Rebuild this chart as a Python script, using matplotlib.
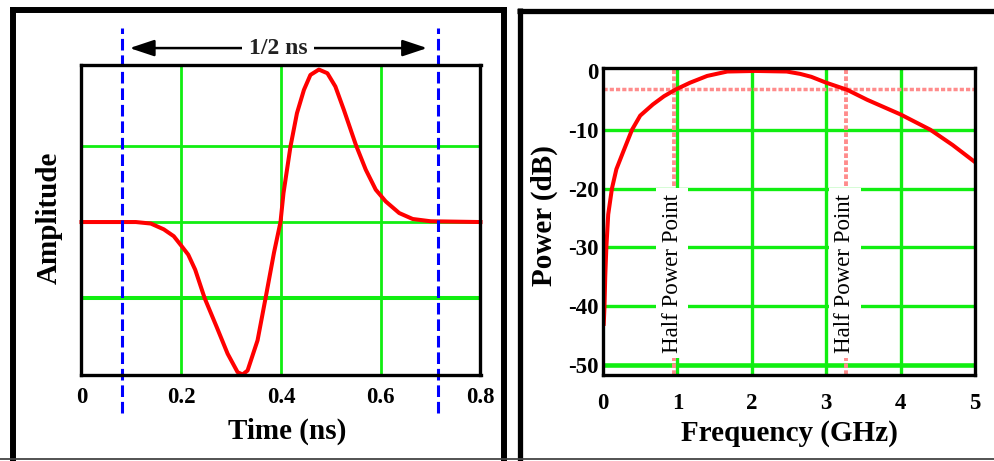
import numpy as np
import matplotlib
matplotlib.use('Agg')
import matplotlib.pyplot as plt
from matplotlib.lines import Line2D

plt.rcParams['font.family'] = ['Liberation Serif', 'DejaVu Serif']

GREEN = '#11ee11'
RED = '#ff0000'
BLUE = '#0000ff'
PINK = '#ff8c8c'

# pulse (left panel)
time_ns = [0.0, 0.109, 0.139, 0.165, 0.185, 0.201, 0.214, 0.228, 0.247, 0.271,
           0.293, 0.313, 0.323, 0.333, 0.353, 0.369, 0.386, 0.399, 0.405, 0.419,
           0.432, 0.446, 0.459, 0.476, 0.493, 0.509, 0.526, 0.55, 0.57, 0.59,
           0.61, 0.637, 0.664, 0.70, 0.8]
amplitude = [0.0, 0.0, -0.01, -0.048, -0.093, -0.159, -0.214, -0.313, -0.5, -0.688,
             -0.864, -0.985, -1.0, -0.974, -0.776, -0.5, -0.2, 0.0, 0.19, 0.495,
             0.714, 0.867, 0.965, 1.0, 0.976, 0.889, 0.736, 0.507, 0.343, 0.212,
             0.135, 0.059, 0.02, 0.005, 0.0]
time_ticks = [0, 0.2, 0.4, 0.6, 0.8]
time_labels = ['0', '0.2', '0.4', '0.6', '0.8']
amp_grid = [-0.5, 0, 0.5]
window = [0.082, 0.714]

# spectrum (right panel)
freq_ghz = [0.01, 0.02, 0.03, 0.045, 0.07, 0.12, 0.18, 0.27, 0.39, 0.5, 0.67,
            0.82, 0.97, 1.17, 1.4, 1.67, 2.05, 2.47, 2.65, 2.8, 3.0, 3.28, 3.55,
            4.0, 4.4, 4.7, 5.0]
power_db = [-43, -40, -35, -30, -24.4, -20, -16.7, -13.8, -10, -7.6, -5.7,
            -4.3, -3.2, -2.0, -0.85, -0.1, 0, -0.1, -0.5, -1.0, -2.0, -3.2, -4.9,
            -7.4, -10, -12.6, -15.5]
freq_ticks = [0, 1, 2, 3, 4, 5]
power_ticks = [0, -10, -20, -30, -40, -50]
half_power_db = -3
half_power_f = [0.95, 3.27]

W, H = 995, 461
fig = plt.figure(figsize=(W / 100, H / 100), dpi=100)

def px(x0, y0, x1, y1):
    return [x0 / W, (H - y1) / H, (x1 - x0) / W, (y1 - y0) / H]

# ---------- left: pulse ----------
ax1 = fig.add_axes(px(81.5, 65, 480.5, 374.5))
ax1.set_xlim(0, 0.8)
ax1.set_ylim(-1.0, 1.03)
for t in time_ticks[1:-1]:
    ax1.axvline(t, color=GREEN, lw=2.0, zorder=1)
for a in amp_grid:
    ax1.axhline(a, color=GREEN, lw=2.9 if a < 0 else 2.0, zorder=1)
ax1.plot(time_ns, amplitude, color=RED, lw=2.9, zorder=3, clip_on=False)
for w in window:
    ax1.axvline(w, ymin=-0.125, ymax=1.12, color=BLUE, lw=2.2,
                linestyle=(0, (3.8, 1.6)), clip_on=False, zorder=4)

ax1.annotate('', xy=(0.0965, 1.141), xytext=(0.693, 1.141),
             arrowprops=dict(arrowstyle='<|-|>,head_length=0.75,head_width=0.25',
                             mutation_scale=20, color='black', lw=1.8,
                             shrinkA=0, shrinkB=0),
             annotation_clip=False)
ax1.text(0.394, 1.141, '1/2 ns', ha='center', va='center', fontsize=17,
         fontweight='bold', color='#222222',
         bbox=dict(boxstyle='square,pad=0.3', fc='white', ec='none'), clip_on=False)

ax1.set_xticks(time_ticks)
ax1.set_xticklabels(time_labels)
ax1.set_yticks([])
ax1.tick_params(axis='x', length=0, pad=9, labelsize=16.5)
for lab in ax1.get_xticklabels():
    lab.set_fontweight('bold')
ax1.set_xlabel('Time (ns)', fontsize=21, fontweight='bold')
ax1.xaxis.set_label_coords(0.515, -0.14)
ax1.set_ylabel('Amplitude', fontsize=21, fontweight='bold')
ax1.yaxis.set_label_coords(-0.047, 0.505)
for s in ax1.spines.values():
    s.set_linewidth(2.4)
    s.set_zorder(5)

# ---------- right: spectrum ----------
ax2 = fig.add_axes(px(603, 68, 975, 375))
ax2.set_xlim(0, 5)
ax2.set_ylim(-51.7, 0.5)
for f in freq_ticks[1:-1]:
    ax2.axvline(f, color=GREEN, lw=2.4, zorder=1)
for p in power_ticks[1:]:
    ax2.axhline(p, color=GREEN, lw=3.3 if p == -50 else 2.4, zorder=1)

ax2.axhline(half_power_db, color=PINK, lw=2.5, linestyle=(0, (1.2, 0.6)), zorder=2)
for f in half_power_f:
    ax2.axvline(f, color=PINK, lw=2.8, linestyle=(0, (1.2, 0.6)), zorder=2)
for f in half_power_f:
    ax2.text(f - 0.02, -34.4, 'Half Power Point', rotation=90, ha='center',
             va='center', fontsize=16.5,
             bbox=dict(boxstyle='square,pad=0.25', fc='white', ec='none'), zorder=3)

ax2.plot(freq_ghz, power_db, color=RED, lw=2.9, zorder=4)

ax2.set_xticks(freq_ticks)
ax2.set_yticks(power_ticks)
ax2.set_yticklabels([str(p) for p in power_ticks])
ax2.tick_params(axis='x', length=0, pad=13, labelsize=16.5)
ax2.tick_params(axis='y', length=0, pad=3, labelsize=16.5)
for lab in ax2.get_xticklabels() + ax2.get_yticklabels():
    lab.set_fontweight('bold')
ax2.set_xlabel('Frequency (GHz)', fontsize=21, fontweight='bold')
ax2.xaxis.set_label_coords(0.5, -0.145)
ax2.set_ylabel('Power (dB)', fontsize=21, fontweight='bold')
ax2.yaxis.set_label_coords(-0.12, 0.518)
for s in ax2.spines.values():
    s.set_linewidth(2.4)
    s.set_zorder(5)

# ---------- panel frames ----------
def frame_line(x0, y0, x1, y1, lw=4.3, color='black'):
    fig.add_artist(Line2D([x0 / W, x1 / W], [1 - y0 / H, 1 - y1 / H],
                          transform=fig.transFigure, color=color, lw=lw,
                          solid_capstyle='butt'))

frame_line(13, 7, 13, 461)
frame_line(10, 9.7, 507, 9.7)
frame_line(503.5, 7, 503.5, 461)
frame_line(519.7, 8, 519.7, 461, lw=3.8)
frame_line(517, 10.8, 995, 10.8, lw=3.8)
frame_line(0, 458.5, 995, 458.5, lw=1.3, color='#444444')

fig.savefig('out.png', dpi=100)
